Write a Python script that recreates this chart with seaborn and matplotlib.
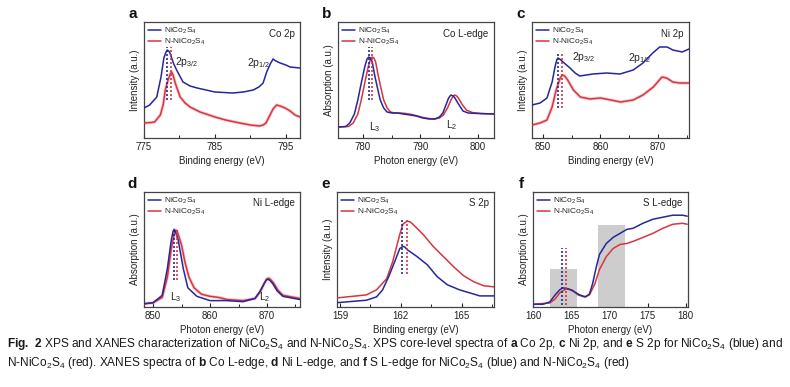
import matplotlib
matplotlib.use("Agg")
import matplotlib.pyplot as plt
import seaborn as sns

BLUE = "#26279a"
RED = "#d6363e"
HALO = "#f3a4ad"

# ---- a: Co 2p (XPS) ----
a_e_blue = [775.0, 775.8, 776.8, 777.4, 777.8, 778.1, 778.3, 778.6, 778.9, 779.2, 779.6, 780.5, 781.5,
            782.5, 785.0, 787.5, 789.0, 790.4, 791.2, 791.8, 792.3, 792.8, 793.2, 793.6, 794.2, 795.0,
            795.6, 797.0]
a_i_blue = [30, 33, 41, 61, 80, 86, 88, 86, 80, 74, 68, 56, 52, 50, 46, 45, 46, 48, 51, 55, 66, 74, 79, 77,
            75, 73, 71, 70]
a_e_red = [775.0, 776.0, 776.5, 777.3, 777.7, 778.0, 778.4, 778.7, 778.9, 779.1, 779.4, 780.1, 780.8, 781.5,
           782.9, 785.0, 786.5, 788.5, 790.0, 791.3, 791.8, 792.2, 792.7, 793.2, 793.7, 794.2, 794.9, 795.6,
           796.3, 797.0]
a_i_red = [15, 15.5, 16, 23, 33, 48, 58, 64, 66, 63, 55, 41, 35, 31, 26, 21, 18, 15, 13, 12, 13, 15, 22, 29,
           33, 32, 30, 27, 23, 21]
a_peaks = [778.3, 778.85]
a_ticks = [775, 785, 795]
a_minor = [780, 790]

# ---- b: Co L-edge (XANES) ----
b_e_blue = [775.7, 777.0, 777.7, 778.5, 779.1, 779.7, 780.3, 780.7, 781.0, 781.3, 781.6, 782.1, 782.6, 783.0,
            783.6, 784.2, 785.0, 786.0, 787.0, 788.2, 789.3, 790.4, 791.5, 792.5, 793.3, 793.9, 794.5, 794.9,
            795.3, 795.7, 796.0, 796.5, 797.4, 798.3, 800.0, 802.8]
b_a_blue = [11, 11.5, 15, 24, 38, 55, 71, 79, 81, 80, 76, 61, 48, 38, 30, 26, 25, 25, 24, 23, 22, 20, 19, 19,
            21, 25, 34, 40, 43, 42, 40, 35, 27, 25, 24.5, 24]
b_e_red = [775.7, 777.5, 778.3, 779.1, 779.7, 780.3, 780.9, 781.3, 781.6, 781.9, 782.2, 782.7, 783.2, 783.6,
           784.2, 784.8, 785.5, 786.5, 787.5, 788.5, 789.5, 790.5, 791.5, 792.5, 793.3, 794.0, 794.7, 795.4,
           795.7, 796.0, 796.3, 796.6, 797.2, 798.0, 799.0, 800.5, 802.8]
b_a_red = [11, 11.5, 15, 24, 38, 55, 71, 79, 81, 80, 76, 61, 48, 38, 30, 26, 25, 25, 24.5, 23.5, 22, 20.5,
           19.5, 19, 20, 23, 30, 39, 42, 43, 42, 40, 34, 28, 25.5, 24.5, 24]
b_peaks = [781.0, 781.6]
b_ticks = [780, 790, 800]
b_minor = [785, 795]

# ---- c: Ni 2p (XPS) ----
c_e_blue = [848.1, 849.5, 850.7, 851.6, 852.1, 852.4, 852.6, 852.9, 853.5, 854.7, 855.6, 856.4, 858.7, 861.1,
            863.4, 865.7, 867.4, 869.1, 870.3, 871.6, 872.6, 874.2, 875.4]
c_i_blue = [33, 35, 40, 56, 71, 78, 80, 79, 76, 70, 65, 62, 64, 65, 64, 68, 75, 85, 91, 91, 88, 86, 89]
c_e_red = [848.1, 849.5, 850.7, 851.6, 852.3, 853.0, 853.4, 853.8, 854.3, 855.3, 856.5, 858.2, 860.0, 861.8,
           863.5, 865.7, 867.4, 869.2, 870.7, 871.5, 872.6, 873.7, 875.4]
c_i_red = [13, 15, 18, 31, 48, 60, 63, 62, 58, 48, 41, 39, 40, 38, 36, 38, 43, 51, 61, 60, 56, 55, 55]
c_peaks = [852.65, 853.3]
c_ticks = [850, 860, 870]
c_minor = [855, 865, 875]

# ---- d: Ni L-edge (XANES) ----
d_e_blue = [848.4, 850.0, 851.6, 852.5, 853.2, 853.5, 853.7, 853.9, 854.4, 855.3, 856.1, 857.7, 860.0, 863.0,
            865.8, 867.9, 868.8, 869.5, 869.9, 870.2, 870.5, 871.0, 871.8, 872.8, 875.8]
d_a_blue = [3, 4, 11, 36, 63, 71, 73, 71, 63, 36, 18, 10, 6, 6, 5, 8, 15, 22, 25.5, 26, 25, 22, 15, 10, 7]
d_e_red = [848.4, 850.0, 851.6, 852.5, 853.2, 853.8, 854.05, 854.3, 855.0, 855.6, 856.3, 857.2, 858.5, 860.0,
           861.5, 863.0, 865.8, 867.9, 868.8, 869.6, 870.0, 870.3, 870.6, 871.1, 871.9, 872.8, 875.8]
d_a_red = [3, 4, 9, 28, 55, 71, 72, 70, 58, 42, 28, 18, 12, 10, 9, 7, 6, 8, 14, 23, 26.5, 27, 26, 23, 16, 11, 8]
d_peaks = [853.7, 854.2]
d_ticks = [850, 860, 870]
d_minor = [855, 865, 875]

# ---- e: S 2p (XPS) ----
e_e_blue = [158.85, 160.3, 160.8, 161.1, 161.4, 161.7, 161.95, 162.1, 162.2, 162.3, 162.8, 163.3, 163.8,
            164.3, 164.9, 165.9, 166.6]
e_i_blue = [4.3, 6.7, 10, 17, 30, 45, 58, 60, 59.5, 57, 50, 42, 30, 22, 17, 11, 11]
e_e_red = [158.85, 160.3, 160.8, 161.3, 161.6, 161.95, 162.1, 162.3, 162.45, 162.6, 163.1, 163.6, 164.1,
           164.6, 165.1, 165.6, 166.1, 166.6]
e_i_red = [9, 12, 17, 28, 45, 72, 82, 85, 84.5, 82, 72, 60, 50, 40, 31, 25, 21, 20]
e_peaks = [162.05, 162.3]
e_ticks = [159, 162, 165]
e_minor = [160.5, 163.5, 166.5]

# ---- f: S L-edge (XANES) ----
f_e_blue = [160.0, 161.3, 162.2, 162.9, 163.5, 163.9, 164.6, 165.2, 166.1, 166.9, 167.4, 167.8, 168.3,
            168.7, 169.6, 170.5, 171.4, 172.3, 173.1, 174.4, 175.7, 177.0, 178.3, 179.6, 180.2]
f_a_blue = [2.7, 2.7, 5, 12, 17, 19, 18, 16, 12, 10, 13, 23, 40, 52, 63, 69, 73, 77, 78, 83, 87, 89, 91, 91, 90]
f_e_red = [160.0, 162.2, 162.9, 163.5, 164.1, 164.4, 165.1, 165.9, 166.7, 167.4, 168.1, 168.7, 169.6,
           170.5, 171.4, 172.3, 173.1, 174.4, 175.7, 177.0, 178.3, 179.6, 180.2]
f_a_red = [2.7, 4, 8, 14, 17, 18, 17, 12, 10, 12, 23, 37, 50, 58, 62, 63, 65, 69, 73, 78, 82, 83, 82]
f_peaks = [163.8, 164.3]
f_ticks = [160, 165, 170, 175, 180]
f_minor = []
f_boxes = [(162.2, 165.7, 38), (168.5, 172.0, 81)]

sns.set_theme(style="ticks")
plt.rcParams["font.family"] = ["Liberation Sans", "DejaVu Sans"]
plt.rcParams["mathtext.fontset"] = "custom"
plt.rcParams["mathtext.bf"] = "Liberation Sans:bold"
plt.rcParams["mathtext.default"] = "regular"

fig = plt.figure(figsize=(7.9, 3.87), dpi=100)
W, H = 790, 387


def make_ax(x0, x1, y0, y1):
    return fig.add_axes([x0 / W, 1 - y1 / H, (x1 - x0) / W, (y1 - y0) / H])


def draw_panel(ax, xb, yb, xr, yr, peaks, pk_span, xlim, ylim, ticks, minor,
               letter, title, ylabel, xlabel, halo=True):
    if halo:
        ax.plot(xr, yr, color=HALO, lw=2.4, alpha=0.55, zorder=2)
    sns.lineplot(x=xb, y=yb, ax=ax, color=BLUE, lw=1.1, sort=False, estimator=None,
                 label="NiCo$_2$S$_4$", zorder=4)
    sns.lineplot(x=xr, y=yr, ax=ax, color=RED, lw=1.1, sort=False, estimator=None,
                 label="N-NiCo$_2$S$_4$", zorder=3)
    ax.vlines(peaks[0], pk_span[0], pk_span[1], colors=BLUE, linestyles=(0, (1.2, 1.2)), lw=1.2, zorder=5)
    ax.vlines(peaks[1], pk_span[0], pk_span[1], colors=RED, linestyles=(0, (1.2, 1.2)), lw=1.2, zorder=5)
    ax.set_xlim(*xlim)
    ax.set_ylim(*ylim)
    ax.set_xticks(ticks)
    ax.set_xticks(minor, minor=True)
    ax.set_yticks([])
    ax.tick_params(axis="x", which="major", direction="in", length=3, width=0.8,
                   labelsize=7, pad=3, colors="#222222")
    ax.tick_params(axis="x", which="minor", direction="in", length=2, width=0.7)
    for s in ax.spines.values():
        s.set_color("#444444")
        s.set_linewidth(0.9)
        s.set_visible(True)
    ax.set_ylabel(ylabel, fontsize=7, labelpad=3, color="#222222")
    ax.set_xlabel(xlabel, fontsize=7, labelpad=3, color="#222222")
    ax.legend(loc="upper left", frameon=False, fontsize=6, handlelength=1.6,
              handletextpad=0.4, labelspacing=0.15, borderaxespad=0.25, borderpad=0.2)
    ax.text(-0.075, 1.07, letter, transform=ax.transAxes, fontsize=11, fontweight="bold",
            ha="center", va="center", color="#111111")
    ax.text(0.965, 0.9, title, transform=ax.transAxes, fontsize=7, ha="right", va="center",
            color="#222222")


ax_a = make_ax(144, 300, 22, 138)
ax_b = make_ax(338, 494, 22, 138)
ax_c = make_ax(532, 689, 22, 138)
ax_d = make_ax(144, 300, 192, 307)
ax_e = make_ax(337, 494, 192, 307)
ax_f = make_ax(533, 688, 192, 307)

draw_panel(ax_a, a_e_blue, a_i_blue, a_e_red, a_i_red, a_peaks, (38, 91), (775, 797), (0, 116),
           a_ticks, a_minor, "a", "Co 2p", "Intensity (a.u.)", "Binding energy (eV)")
draw_panel(ax_b, b_e_blue, b_a_blue, b_e_red, b_a_red, b_peaks, (38, 91), (775.65, 802.8), (0, 116),
           b_ticks, b_minor, "b", "Co L-edge", "Absorption (a.u.)", "Photon energy (eV)", halo=False)
draw_panel(ax_c, c_e_blue, c_i_blue, c_e_red, c_i_red, c_peaks, (30, 85), (848.1, 875.4), (0, 116),
           c_ticks, c_minor, "c", "Ni 2p", "Intensity (a.u.)", "Binding energy (eV)")
draw_panel(ax_d, d_e_blue, d_a_blue, d_e_red, d_a_red, d_peaks, (25, 74), (848.4, 875.8), (0, 108),
           d_ticks, d_minor, "d", "Ni L-edge", "Absorption (a.u.)", "Photon energy (eV)")
draw_panel(ax_e, e_e_blue, e_i_blue, e_e_red, e_i_red, e_peaks, (33, 88), (158.85, 166.6), (0, 114),
           e_ticks, e_minor, "e", "S 2p", "Intensity (a.u.)", "Binding energy (eV)", halo=False)
draw_panel(ax_f, f_e_blue, f_a_blue, f_e_red, f_a_red, f_peaks, (2, 58), (160, 180.3), (0, 114),
           f_ticks, f_minor, "f", "S L-edge", "Absorption (a.u.)", "Photon energy (eV)", halo=False)

for lo, hi, top in f_boxes:
    ax_f.fill_between([lo, hi], 0, top, color="#cdcdcd", lw=0, zorder=1)

# peak labels
ax_a.text(0.2, 0.655, "2p$_{3/2}$", transform=ax_a.transAxes, fontsize=7.5, va="center")
ax_a.text(0.66, 0.647, "2p$_{1/2}$", transform=ax_a.transAxes, fontsize=7.5, va="center")
ax_c.text(0.255, 0.70, "2p$_{3/2}$", transform=ax_c.transAxes, fontsize=7.5, va="center")
ax_c.text(0.61, 0.69, "2p$_{1/2}$", transform=ax_c.transAxes, fontsize=7.5, va="center")
ax_b.text(0.237, 0.095, "L$_3$", transform=ax_b.transAxes, fontsize=7.5, ha="center", va="center")
ax_b.text(0.73, 0.11, "L$_2$", transform=ax_b.transAxes, fontsize=7.5, ha="center", va="center")
ax_d.text(0.205, 0.085, "L$_3$", transform=ax_d.transAxes, fontsize=7.5, ha="center", va="center")
ax_d.text(0.776, 0.085, "L$_2$", transform=ax_d.transAxes, fontsize=7.5, ha="center", va="center")

cap1 = (r"$\mathbf{Fig.\ 2}$ XPS and XANES characterization of NiCo$_2$S$_4$ and N-NiCo$_2$S$_4$. "
        r"XPS core-level spectra of $\mathbf{a}$ Co 2p, $\mathbf{c}$ Ni 2p, and $\mathbf{e}$ S 2p "
        r"for NiCo$_2$S$_4$ (blue) and")
cap2 = (r"N-NiCo$_2$S$_4$ (red). XANES spectra of $\mathbf{b}$ Co L-edge, $\mathbf{d}$ Ni L-edge, "
        r"and $\mathbf{f}$ S L-edge for NiCo$_2$S$_4$ (blue) and N-NiCo$_2$S$_4$ (red)")
fig.text(7 / W, 1 - 344 / H, cap1, fontsize=8.6, va="center", color="#1a1a1a")
fig.text(7 / W, 1 - 363 / H, cap2, fontsize=8.6, va="center", color="#1a1a1a")

fig.savefig("out.png", dpi=100)
